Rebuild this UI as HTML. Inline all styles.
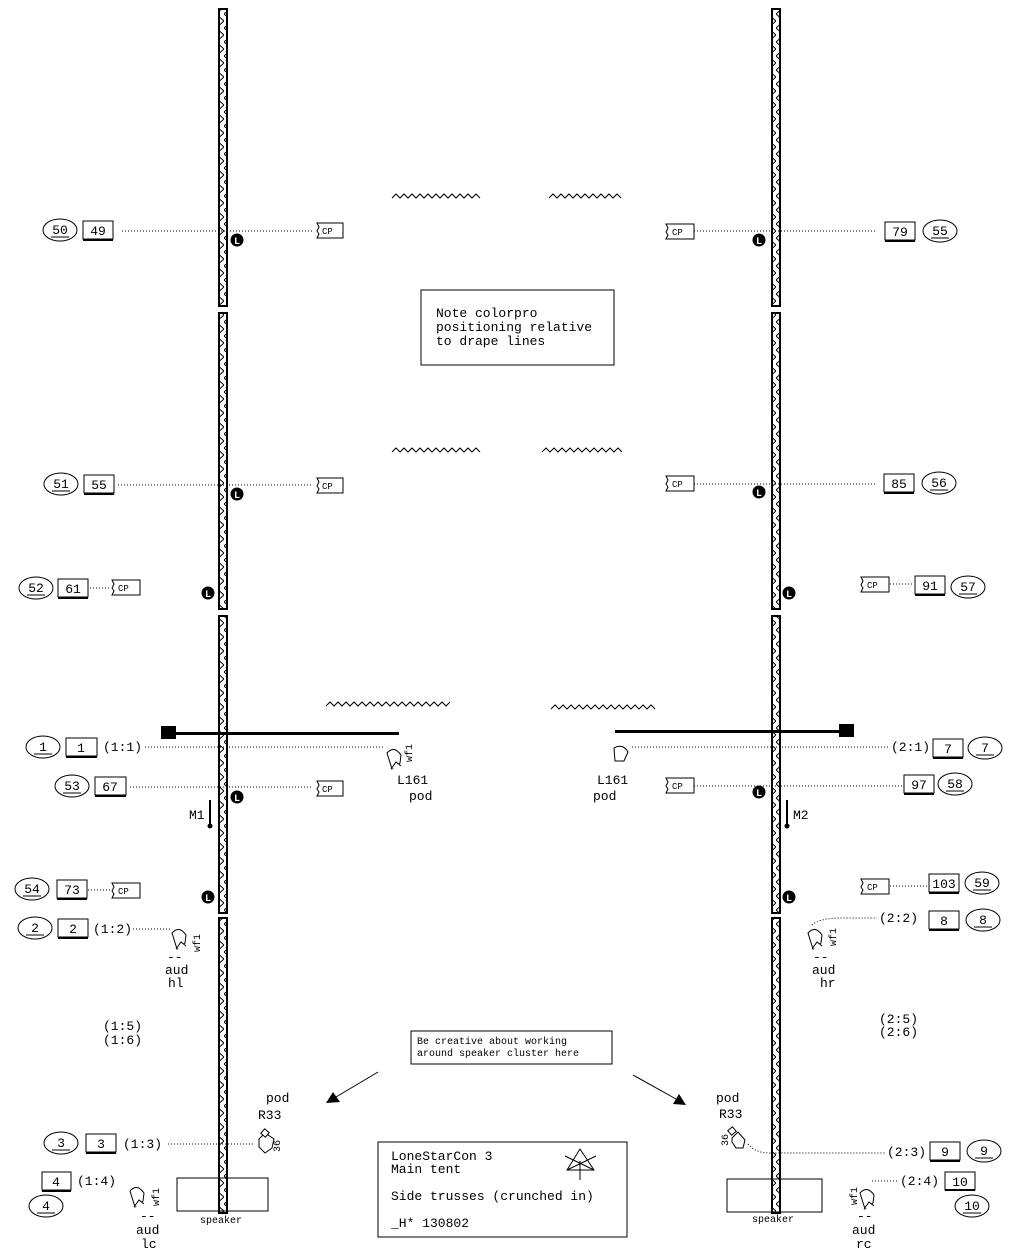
<!DOCTYPE html>
<html><head><meta charset="utf-8"><style>
html,body{margin:0;padding:0;background:#fff;width:1014px;height:1260px;overflow:hidden}
svg{display:block}
text{font-family:"Liberation Mono","DejaVu Sans Mono",monospace;font-size:13px;fill:#000}
.d{stroke:#000;stroke-width:1;stroke-dasharray:1 2;fill:none}
.b{fill:#fff;stroke:#000;stroke-width:1}
</style></head><body>
<svg width="1014" height="1260" viewBox="0 0 1014 1260" xmlns="http://www.w3.org/2000/svg">
<defs>
<pattern id="tr" x="0" y="0" width="8" height="14" patternUnits="userSpaceOnUse">
<rect width="8" height="14" fill="#fff"/>
<path d="M0,0 L8,7 L0,14" stroke="#000" stroke-width="1" fill="none"/>
</pattern>
</defs>
<g fill="url(#tr)" stroke="#000" stroke-width="2">
<rect x="219" y="9" width="8" height="297"/><rect x="219" y="313" width="8" height="296"/>
<rect x="219" y="616" width="8" height="297"/><rect x="219" y="918" width="8" height="295"/>
<rect x="772" y="9" width="8" height="297"/><rect x="772" y="313" width="8" height="296"/>
<rect x="772" y="616" width="8" height="297"/><rect x="772" y="918" width="8" height="295"/>
</g>
<g stroke="#000" fill="none" stroke-width="1">
<path d="M392,198 l4,-4 l4,4 l4,-4 l4,4 l4,-4 l4,4 l4,-4 l4,4 l4,-4 l4,4 l4,-4 l4,4 l4,-4 l4,4 l4,-4 l4,4 l4,-4 l4,4 l4,-4 l4,4 l4,-4 l4,4"/>
<path d="M549,198 l4,-4 l4,4 l4,-4 l4,4 l4,-4 l4,4 l4,-4 l4,4 l4,-4 l4,4 l4,-4 l4,4 l4,-4 l4,4 l4,-4 l4,4 l4,-4 l4,4"/>
<path d="M392,452 l4,-4 l4,4 l4,-4 l4,4 l4,-4 l4,4 l4,-4 l4,4 l4,-4 l4,4 l4,-4 l4,4 l4,-4 l4,4 l4,-4 l4,4 l4,-4 l4,4 l4,-4 l4,4 l4,-4 l4,4"/>
<path d="M542,452 l4,-4 l4,4 l4,-4 l4,4 l4,-4 l4,4 l4,-4 l4,4 l4,-4 l4,4 l4,-4 l4,4 l4,-4 l4,4 l4,-4 l4,4 l4,-4 l4,4 l4,-4 l4,4"/>
<path d="M326,706 l4,-4 l4,4 l4,-4 l4,4 l4,-4 l4,4 l4,-4 l4,4 l4,-4 l4,4 l4,-4 l4,4 l4,-4 l4,4 l4,-4 l4,4 l4,-4 l4,4 l4,-4 l4,4 l4,-4 l4,4 l4,-4 l4,4 l4,-4 l4,4 l4,-4 l4,4 l4,-4 l4,4 l4,-4"/>
<path d="M551,709 l4,-4 l4,4 l4,-4 l4,4 l4,-4 l4,4 l4,-4 l4,4 l4,-4 l4,4 l4,-4 l4,4 l4,-4 l4,4 l4,-4 l4,4 l4,-4 l4,4 l4,-4 l4,4 l4,-4 l4,4 l4,-4 l4,4 l4,-4 l4,4"/>
</g>
<path class="d" d="M122,231H313 M118,485H313 M90,588H111 M145,747H385 M130,787H313 M88,890H111 M133,929H170 M168,1144H255
M694,231H876 M694,484H876 M890,584H913 M632,747H888 M694,786H902 M890,886H928 M812,925 Q820,918 840,918 H877 M748,1144 Q755,1153 770,1153 H886 M872,1181H898"/>
<g class="b">
<ellipse cx="60" cy="230" rx="17" ry="11"/><ellipse cx="61" cy="484" rx="17" ry="11"/><ellipse cx="36" cy="588" rx="17" ry="11"/>
<ellipse cx="43" cy="747" rx="17" ry="11"/><ellipse cx="72" cy="786" rx="17" ry="11"/><ellipse cx="32" cy="889" rx="17" ry="11"/>
<ellipse cx="35" cy="928" rx="17" ry="11"/><ellipse cx="61" cy="1143" rx="17" ry="11"/><ellipse cx="46" cy="1206" rx="17" ry="11"/>
<ellipse cx="940" cy="231" rx="17" ry="11"/><ellipse cx="939" cy="483" rx="17" ry="11"/><ellipse cx="968" cy="587" rx="17" ry="11"/>
<ellipse cx="985" cy="748" rx="17" ry="11"/><ellipse cx="955" cy="784" rx="17" ry="11"/><ellipse cx="982" cy="883" rx="17" ry="11"/>
<ellipse cx="983" cy="920" rx="17" ry="11"/><ellipse cx="984" cy="1151" rx="17" ry="11"/><ellipse cx="972" cy="1206" rx="17" ry="11"/>
</g>
<g class="b">
<rect x="83" y="221" width="30" height="18"/><rect x="84" y="475" width="30" height="18"/><rect x="58" y="579" width="30" height="18"/>
<rect x="66" y="738" width="31" height="18"/><rect x="95" y="777" width="31" height="18"/><rect x="57" y="880" width="30" height="18"/>
<rect x="58" y="919" width="30" height="18"/><rect x="86" y="1134" width="30" height="18"/><rect x="42" y="1172" width="29" height="18"/>
<rect x="885" y="222" width="30" height="18"/><rect x="884" y="474" width="30" height="18"/><rect x="915" y="576" width="30" height="18"/>
<rect x="933" y="739" width="30" height="18"/><rect x="904" y="775" width="30" height="18"/><rect x="929" y="874" width="30" height="18"/>
<rect x="929" y="911" width="30" height="18"/><rect x="930" y="1142" width="30" height="18"/><rect x="945" y="1172" width="30" height="18"/>
</g>
<g stroke="#000" stroke-width="2">
<path d="M83,240H113 M84,494H114 M58,598H88 M66,757H97 M95,796H126 M57,899H87 M58,938H88 M86,1153H116 M42,1191H71 M885,241H915 M884,493H914 M915,595H945 M933,758H963 M904,794H934 M929,893H959 M929,930H959 M930,1161H960 M945,1190H975"/>
</g>
<g stroke="#000" stroke-width="1">
<path d="M51,237H69 M52,491H70 M27,595H45 M34,754H52 M63,793H81 M23,896H41 M26,935H44 M52,1150H70 M37,1213H55 M931,238H949 M930,490H948 M959,594H977 M976,755H994 M946,791H964 M973,890H991 M974,927H992 M975,1158H993 M963,1213H981"/>
</g>
<g text-anchor="middle">
<text x="60" y="234">50</text><text x="98" y="235">49</text>
<text x="61" y="488">51</text><text x="99" y="489">55</text>
<text x="36" y="592">52</text><text x="73" y="593">61</text>
<text x="43" y="751">1</text><text x="81" y="752">1</text>
<text x="72" y="790">53</text><text x="110" y="791">67</text>
<text x="32" y="893">54</text><text x="72" y="894">73</text>
<text x="35" y="932">2</text><text x="73" y="933">2</text>
<text x="61" y="1147">3</text><text x="101" y="1148">3</text>
<text x="56" y="1186">4</text><text x="46" y="1210">4</text>
<text x="940" y="235">55</text><text x="900" y="236">79</text>
<text x="939" y="487">56</text><text x="899" y="488">85</text>
<text x="968" y="591">57</text><text x="930" y="590">91</text>
<text x="985" y="752">7</text><text x="948" y="753">7</text>
<text x="955" y="788">58</text><text x="919" y="789">97</text>
<text x="982" y="887">59</text><text x="944" y="888">103</text>
<text x="983" y="924">8</text><text x="944" y="925">8</text>
<text x="984" y="1155">9</text><text x="945" y="1156">9</text>
<text x="972" y="1210">10</text><text x="960" y="1186">10</text>
</g>
<g class="b"><path d="M317,223H343V238H317l2,-4l-2,-3l2,-4z"/><path d="M112,580H140V595H112l2,-4l-2,-3l2,-4z"/><path d="M317,478H343V493H317l2,-4l-2,-3l2,-4z"/><path d="M317,781H343V796H317l2,-4l-2,-3l2,-4z"/><path d="M112,883H140V898H112l2,-4l-2,-3l2,-4z"/>
<path d="M666,224H694V239H666l2,-4l-2,-3l2,-4z"/><path d="M666,476H694V491H666l2,-4l-2,-3l2,-4z"/><path d="M861,577H889V592H861l2,-4l-2,-3l2,-4z"/><path d="M666,778H694V793H666l2,-4l-2,-3l2,-4z"/><path d="M861,879H889V894H861l2,-4l-2,-3l2,-4z"/></g>
<g>
<text x="322" y="234" style="font-size:9px">CP</text><text x="118" y="591" style="font-size:9px">CP</text><text x="322" y="489" style="font-size:9px">CP</text><text x="322" y="792" style="font-size:9px">CP</text><text x="118" y="894" style="font-size:9px">CP</text>
<text x="672" y="235" style="font-size:9px">CP</text><text x="672" y="487" style="font-size:9px">CP</text><text x="867" y="588" style="font-size:9px">CP</text><text x="672" y="789" style="font-size:9px">CP</text><text x="867" y="890" style="font-size:9px">CP</text>
</g>
<g fill="#000"><circle cx="237" cy="240" r="6.5"/><circle cx="237" cy="494" r="6.5"/><circle cx="208" cy="593" r="6.5"/><circle cx="237" cy="797" r="6.5"/><circle cx="208" cy="897" r="6.5"/>
<circle cx="759" cy="240" r="6.5"/><circle cx="759" cy="492" r="6.5"/><circle cx="789" cy="593" r="6.5"/><circle cx="759" cy="792" r="6.5"/><circle cx="789" cy="897" r="6.5"/></g>
<g text-anchor="middle" style="font-weight:bold">
<text x="237" y="244" style="fill:#fff;font-size:10px">L</text><text x="237" y="498" style="fill:#fff;font-size:10px">L</text><text x="208" y="597" style="fill:#fff;font-size:10px">L</text><text x="237" y="801" style="fill:#fff;font-size:10px">L</text><text x="208" y="901" style="fill:#fff;font-size:10px">L</text>
<text x="759" y="244" style="fill:#fff;font-size:10px">L</text><text x="759" y="496" style="fill:#fff;font-size:10px">L</text><text x="789" y="597" style="fill:#fff;font-size:10px">L</text><text x="759" y="796" style="fill:#fff;font-size:10px">L</text><text x="789" y="901" style="fill:#fff;font-size:10px">L</text>
</g>
<rect x="161" y="726" width="15" height="13" fill="#000"/><rect x="176" y="732" width="223" height="3" fill="#000"/>
<rect x="839" y="724" width="15" height="13" fill="#000"/><rect x="615" y="730" width="225" height="3" fill="#000"/>
<rect x="209" y="800" width="2" height="26" fill="#000"/><circle cx="210" cy="826" r="2.5"/>
<rect x="786" y="800" width="2" height="26" fill="#000"/><circle cx="787" cy="826" r="2.5"/>
<text x="189" y="819">M1</text><text x="793" y="819">M2</text>
<g class="b">
<path d="M387,753 q7,-8 14,2 l-1,8 l-8,6 z"/><path d="M391,769 l5,-7 l5,4"/>
<path d="M614,748 q9,-5 14,4 l-4,9 l-9,0 z"/>
<path d="M172,933 q7,-8 14,2 l-1,8 l-8,6 z"/><path d="M176,949 l5,-7 l5,4"/>
<path d="M808,933 q7,-8 14,2 l-1,8 l-8,6 z"/><path d="M812,949 l5,-7 l5,4"/>
<path d="M130,1191 q7,-8 14,2 l-1,8 l-8,6 z"/><path d="M134,1207 l5,-7 l5,4"/>
<path d="M860,1193 q7,-8 14,2 l-1,8 l-8,6 z"/><path d="M864,1209 l5,-7 l5,4"/>
<path d="M259,1139 l6,-6 l9,6 l-2,9 l-7,5 l-6,-6 z"/><rect x="262" y="1130" width="6" height="6" transform="rotate(40 265 1133)"/>
<path d="M732,1138 l6,-6 l7,8 l-2,8 l-7,0 l-4,-6 z"/><rect x="729" y="1128" width="6" height="6" transform="rotate(-40 732 1131)"/>
</g>
<text transform="translate(412,762) rotate(-90)" style="font-size:10px">wf1</text>
<text transform="translate(200,952) rotate(-90)" style="font-size:10px">wf1</text>
<text transform="translate(836,946) rotate(-90)" style="font-size:10px">wf1</text>
<text transform="translate(159,1206) rotate(-90)" style="font-size:10px">wf1</text>
<text transform="translate(857,1205) rotate(-90)" style="font-size:10px">wf1</text>
<text transform="translate(280,1152) rotate(-90)" style="font-size:10px">36</text>
<text transform="translate(728,1146) rotate(-90)" style="font-size:10px">36</text>
<text x="397" y="784">L161</text><text x="409" y="800">pod</text>
<text x="597" y="784">L161</text><text x="593" y="800">pod</text>
<text x="167" y="961">--</text><text x="165" y="974">aud</text><text x="168" y="987">hl</text>
<text x="813" y="961">--</text><text x="812" y="974">aud</text><text x="820" y="987">hr</text>
<text x="140" y="1220">--</text><text x="136" y="1234">aud</text><text x="141" y="1248">lc</text>
<text x="857" y="1220">--</text><text x="852" y="1234">aud</text><text x="856" y="1248">rc</text>
<text x="266" y="1102">pod</text><text x="258" y="1119">R33</text>
<text x="716" y="1102">pod</text><text x="719" y="1118">R33</text>
<text x="103" y="751">(1:1)</text><text x="93" y="933">(1:2)</text><text x="123" y="1148">(1:3)</text><text x="77" y="1185">(1:4)</text>
<text x="103" y="1030">(1:5)</text><text x="103" y="1044">(1:6)</text>
<text x="891" y="751">(2:1)</text><text x="879" y="922">(2:2)</text><text x="887" y="1156">(2:3)</text><text x="900" y="1185">(2:4)</text>
<text x="879" y="1023">(2:5)</text><text x="879" y="1036">(2:6)</text>
<rect x="177" y="1178" width="91" height="33" fill="none" stroke="#000"/>
<rect x="727" y="1179" width="95" height="33" fill="none" stroke="#000"/>
<text x="200" y="1223" style="font-size:10px">speaker</text><text x="752" y="1222" style="font-size:10px">speaker</text>
<rect x="421" y="290" width="193" height="75" fill="none" stroke="#000"/>
<text x="436" y="317">Note colorpro</text><text x="436" y="331">positioning relative</text><text x="436" y="345">to drape lines</text>
<rect x="411" y="1031" width="201" height="33" fill="none" stroke="#000"/>
<text x="417" y="1044" style="font-size:10px">Be creative about working</text><text x="417" y="1056" style="font-size:10px">around speaker cluster here</text>
<path d="M378,1072 L336,1097" stroke="#000"/><path d="M326,1103 L333,1092 L340,1102 z" fill="#000"/>
<path d="M633,1075 L676,1099" stroke="#000"/><path d="M686,1105 L673,1104 L679,1094 z" fill="#000"/>
<rect x="378" y="1142" width="249" height="95" fill="none" stroke="#000"/>
<text x="391" y="1160">LoneStarCon 3</text><text x="391" y="1173">Main tent</text>
<text x="391" y="1200">Side trusses (crunched in)</text><text x="391" y="1227">_H*  130802</text>
<path d="M567,1170 L580,1149 L594,1170 Z M565,1156 L594,1170 M596,1156 L567,1170 M580,1161 V1180" stroke="#000" fill="none"/>
</svg>
</body></html>
